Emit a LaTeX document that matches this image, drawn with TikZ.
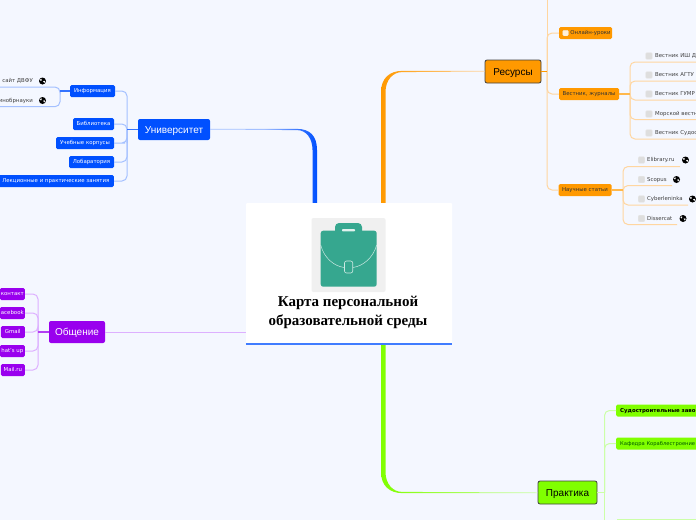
\documentclass[tikz,border=0pt]{standalone}
\usepackage{fontspec}
\setmainfont{DejaVu Sans}
\newfontfamily\mainf{Liberation Sans}
\newfontfamily\titlef{Liberation Serif}
\definecolor{bgc}{HTML}{F4F7FF}
\definecolor{blu}{HTML}{0050FF}
\definecolor{blul}{HTML}{A4C0FF}
\definecolor{org}{HTML}{FF9900}
\definecolor{orgl}{HTML}{FFD6A0}
\definecolor{pur}{HTML}{9900EE}
\definecolor{purl}{HTML}{DDB0FF}
\definecolor{grn}{HTML}{80FF00}
\definecolor{grnl}{HTML}{CCFFA8}
\definecolor{teal1}{HTML}{36A78F}
\tikzset{
 x=1pt,y=-1pt,
 mainnode/.style={rounded corners=2pt,inner sep=0pt,text height=7pt,text depth=0pt,font=\mainf\fontsize{10}{12}\selectfont},
 bignode/.style={mainnode,draw=black!75,line width=.8pt},
 subnode/.style={rounded corners=1.5pt,inner sep=0pt,minimum height=12pt,text height=3pt,text depth=0pt,font=\fontsize{5.4}{6}\selectfont},
 leftnode/.style={subnode,anchor=west,inner xsep=4pt,font=\fontsize{5.2}{6}\selectfont},
 item/.style={inner sep=0pt,anchor=west,text height=3pt,text depth=0pt,text=black!75,font=\fontsize{5.4}{6}\selectfont},
 checkbox/.style={fill=black!13,draw=black!8,line width=.3pt,rounded corners=1pt,minimum size=6.6pt,inner sep=0pt},
 wire/.style={line width=1pt,rounded corners=5pt},
 stub/.style={line width=1.4pt},
}
\newcommand{\globe}[2]{%
 \fill[black] (#1,#2) circle (3.5pt);
 \fill[white] (#1-2.6,#2-1.4) .. controls (#1-1.2,#2-3) and (#1-.3,#2-2) .. (#1-.8,#2-.6) .. controls (#1-1.2,#2+.3) and (#1-2.2,#2+.3) .. cycle;
 \fill[white] (#1+.6,#2+.2) .. controls (#1+1.6,#2-.3) and (#1+2.6,#2-.2) .. (#1+2.7,#2+.6) .. controls (#1+2.3,#2+2.2) and (#1+1.2,#2+2.6) .. cycle;
}
\begin{document}
\begin{tikzpicture}
\useasboundingbox (0,0) rectangle (696,520);
\clip (0,0) rectangle (696,520);
\fill[bgc] (0,0) rectangle (696,520);

% main nodes
\node[mainnode,fill=blu,text=white,minimum width=72pt,minimum height=21pt] (uni) at (174,129.5) {Университет};
\node[bignode,fill=org,text=black,minimum width=56pt,minimum height=23pt] (res) at (513,71.5) {Ресурсы};
\node[mainnode,fill=pur,text=white,minimum width=56pt,minimum height=22pt] (obs) at (77,332) {Общение};
\node[bignode,fill=grn,text=black,minimum width=59pt,minimum height=23pt] (pra) at (567.5,492.5) {Практика};

% trunks
\shade[left color=blul,right color=blu,middle color=blul]
 (uni.east) ++(0,-.6) -- (297,128.9) .. controls (310,128.9) and (317,136) .. (317,150) -- (317,204) -- (312.5,204) -- (312.5,150) .. controls (312.5,138) and (306,130.1) .. (297,130.1) -- (uni.east) -- cycle;
\shade[left color=org,right color=orgl]
 (res.west) ++(0,-.6) -- (402,70.9) .. controls (390,70.9) and (381,78) .. (381,92) -- (381,204) -- (385.5,204) -- (385.5,92) .. controls (385.5,80) and (393,72.1) .. (402,72.1) -- (res.west) -- cycle;
\shade[left color=grn,right color=grnl]
 (pra.west) ++(0,.6) -- (402,493.1) .. controls (390,493.1) and (381,486) .. (381,472) -- (381,343) -- (385.5,343) -- (385.5,472) .. controls (385.5,484) and (393,491.9) .. (402,491.9) -- (pra.west) -- cycle;

% centre
\node[fill=white,rounded corners=1pt,minimum width=206pt,minimum height=141pt,inner sep=0pt] (centre) at (349,273.5) {};
\draw[color=blu!75,line width=1.6pt] (centre.south west) -- (centre.south east);
\draw[purl,line width=1pt] (obs.east) -- (centre.west |- obs.east);
\node[fill=black!6,rounded corners=2pt,minimum size=74pt,inner sep=0pt] (icon) at (348.5,255) {};
\fill[teal1,rounded corners=2.5pt] (320.7,230.7) rectangle (376.7,286.7);
\fill[teal1,rounded corners=4pt] (335,236) -- (335,223) -- (362,223) -- (362,236) -- cycle;
\fill[white!85!teal1,rounded corners=.8pt] (342,229) rectangle (355,231.3);
\draw[white!75!teal1,line width=.5pt] (320.7,245) .. controls (324,258) and (334,266) .. (344,267.5);
\draw[white!75!teal1,line width=.5pt] (376.7,245) .. controls (373,258) and (363,266) .. (353,267.5);
\draw[white!75!teal1,line width=.6pt,rounded corners=2pt] (344.5,261) rectangle (352.7,273);
\node[align=center,inner sep=0pt,font=\titlef\bfseries\fontsize{15}{18.5}\selectfont] (title) at (348,312.5) {Карта персональной\\образовательной среды};

% Университет children
\node[subnode,fill=blu,text=white,minimum width=45pt] (info) at (92.5,91) {Информация};
\node[subnode,fill=blu,text=white,minimum width=41pt] (lib) at (93.5,124) {Библиотека};
\node[subnode,fill=blu,text=white,minimum width=58pt] (korp) at (85,143) {Учебные корпусы};
\node[subnode,fill=blu,text=white,minimum width=45pt] (lab) at (91.5,162) {Лобаратория};
\node[subnode,fill=blu,text=white,minimum width=116pt,anchor=east] (lek) at (114,181) {Лекционные и практические занятия};
\coordinate (ubus) at (127,129.5);
\draw[wire,blul] (info.east) -| (ubus) ;
\draw[wire,blul] (lib.east) -| (ubus |- korp.east);
\draw[wire,blul] (korp.east) -- ++(6,0) [rounded corners=5pt] -| (ubus);
\draw[wire,blul] (lab.east) -| (ubus);
\draw[wire,blul] (lek.east) -| (ubus);
\draw[stub,blu!80] (uni.west) -- (ubus);
\coordinate (ibus) at (60,91);
\draw[wire,blul] (0,87) -| (ibus);
\draw[wire,blul] (0,106.7) -| (ibus);
\draw[stub,blu!80] (info.west) -- (ibus);
\node[item,anchor=east] (dvfu) at (33,81) {сайт ДВФУ};
\node[item,anchor=east] (minobr) at (33,100.5) {инобрнауки};
\globe{42.5}{81}
\globe{42.5}{100.5}

% Общение children
\node[subnode,fill=pur,text=white,minimum width=25pt,anchor=east] (vk) at (25,294) {контакт};
\node[subnode,fill=pur,text=white,minimum width=25pt,anchor=east] (fb) at (25,313) {acebook};
\node[subnode,fill=pur,text=white,minimum width=24pt,anchor=east] (gm) at (25,332) {Gmail};
\node[subnode,fill=pur,text=white,minimum width=25pt,anchor=east] (wa) at (25,351) {hat's up};
\node[subnode,fill=pur,text=white,minimum width=24pt,anchor=east] (ml) at (25,370) {Mail.ru};
\coordinate (obus) at (38,332);
\foreach \n in {vk,fb,gm,wa,ml}{\draw[wire,purl] (\n.east) -| (obus);}
\draw[stub,pur!75] (obs.west) -- (obus);

% Ресурсы children
\node[subnode,fill=org,text=black!80,minimum width=53pt] (onl) at (585.5,33) {\hspace{10pt}Онлайн-уроки};
\node[checkbox,fill=white!85!org,minimum size=5.5pt] (onlc) at (565.5,33) {};
\node[subnode,fill=org,text=black!80,minimum width=60pt] (ves) at (589,94) {Вестник, журналы};
\node[subnode,fill=org,text=black!80,minimum width=53pt] (nau) at (585,190) {Научные статьи};
\coordinate (rbus) at (547,71.5);
\draw[line width=1pt,orgl] (rbus) -- (547,0);
\draw[wire,orgl] (onl.west) -| (rbus);
\draw[wire,orgl] (ves.west) -| (rbus);
\draw[wire,orgl] (nau.west) -| (rbus);
\draw[stub,org] (res.east) -- (rbus);

% journals
\coordinate (vbus) at (630,94);
\foreach \yy in {62,81,100,119.5,139}{\draw[wire,orgl] (696,\yy) -| (vbus);}
\draw[stub,org!70] (ves.east) -- (vbus);
\foreach \nm/\yy/\tx in {a/56/Вестник ИШ Д,b/75/Вестник АГТУ,c/94/Вестник ГУМР,d/114/Морской вестн,e/133/Вестник Судос}{
 \node[checkbox] (vc\nm) at (649,\yy) {};
 \node[item] (vt\nm) at (655,\yy) {\tx};
}

% articles
\coordinate (sbus) at (623,190);
\foreach \yy/\xe in {166.5/680,185.5/672,205/688,224.5/677}{\draw[wire,orgl] (\xe,\yy) -| (sbus);}
\draw[stub,org!70] (nau.east) -- (sbus);
\foreach \nm/\yy/\tx/\gx in {a/160/Elibrary.ru/685.5,b/179.5/Scopus/676.5,c/199/Cyberleninka/692.5,d/218.5/Dissercat/683}{
 \node[checkbox] (sc\nm) at (641.5,\yy) {};
 \node[item] (st\nm) at (647,\yy) {\tx};
 \globe{\gx}{\yy}
}

% Практика children
\node[leftnode,fill=grn,text=black,font=\fontsize{5.4}{6}\selectfont\bfseries,minimum width=90pt,align=left,text width=82pt] (zav) at (616,410.5) {Судостроительные заво};
\node[leftnode,fill=grn,text=black!65!green,minimum width=90pt,align=left,text width=82pt] (kaf) at (616,443.5) {Кафедра Кораблестроение};
\coordinate (pbus) at (604.5,492.5);
\draw[wire,grnl] (zav.west) -| (pbus);
\draw[wire,grnl] (kaf.west) -| (pbus);
\draw[line width=1pt,grnl] (pbus) -- (604.5,520);
\draw[line width=1pt,grnl] (617,519.5) -- (696,519.5);
\draw[stub,grnl] (pra.east) -- (pbus);
\end{tikzpicture}
\end{document}
